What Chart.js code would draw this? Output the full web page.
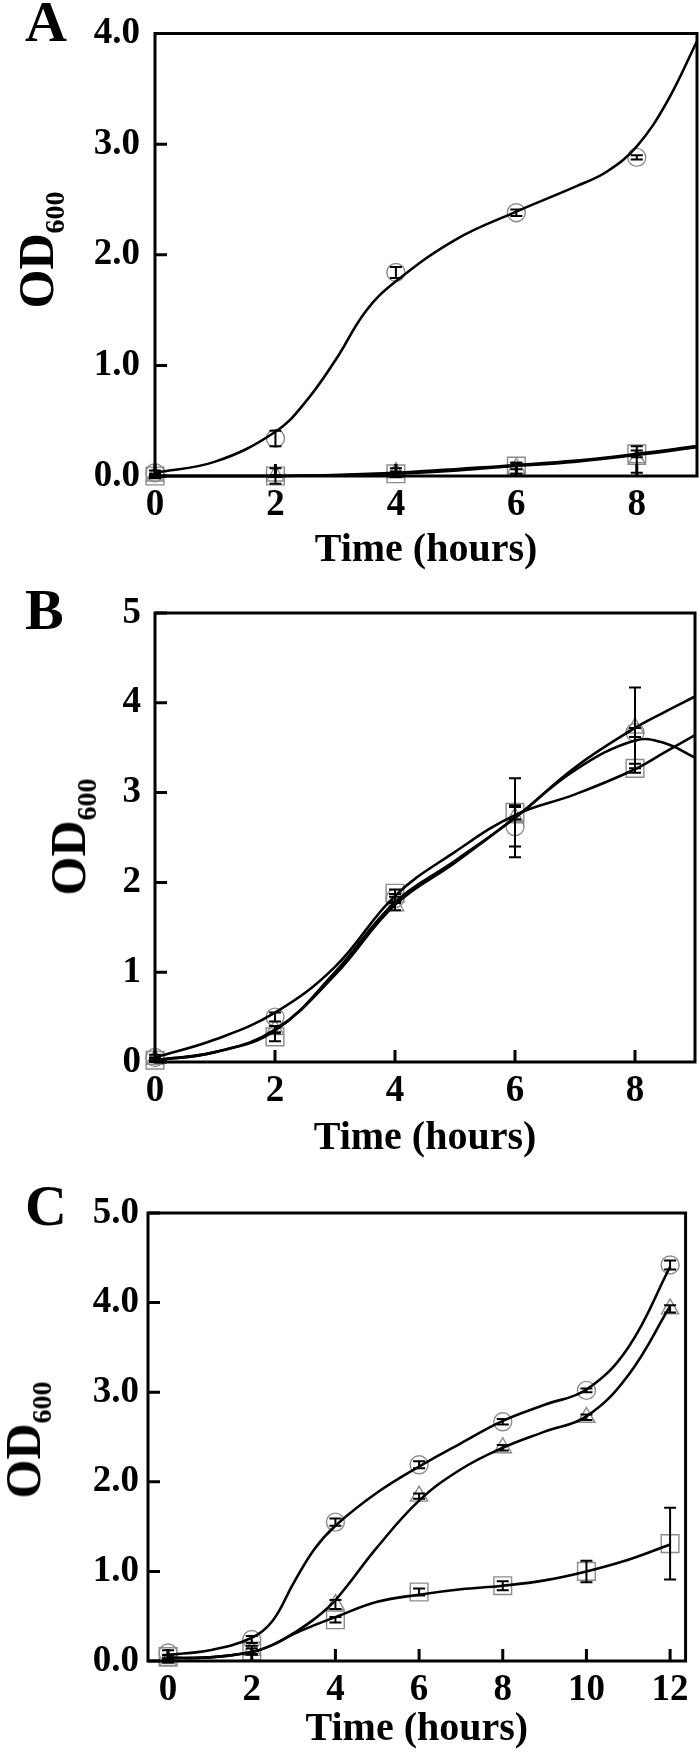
<!DOCTYPE html>
<html>
<head>
<meta charset="utf-8">
<script src="https://cdn.jsdelivr.net/npm/chart.js@4.4.1/dist/chart.umd.min.js"></script>
<style>
  html, body { margin: 0; padding: 0; background: #fff; }
  #page { position: relative; width: 700px; height: 1754px; overflow: hidden;
          font-family: "Liberation Serif", "Times New Roman", serif; font-weight: bold; color: #000; }
  canvas { position: absolute; left: 0; }
  .letter { position: absolute; left: 25px; font-size: 58px; line-height: 1; }
  .ylab { position: absolute; font-size: 50px; line-height: 1; white-space: nowrap;
          transform: translate(-50%, -50%) rotate(-90deg); }
  .ylab sub { font-size: 28px; vertical-align: baseline; position: relative; top: 0.4em; }
</style>
</head>
<body>
<div id="page">
  <canvas id="chartA" width="700" height="580" style="top:0px"></canvas>
  <canvas id="chartB" width="700" height="590" style="top:580px"></canvas>
  <canvas id="chartC" width="700" height="584" style="top:1170px"></canvas>

  <div class="letter" style="top:-7px">A</div>
  <div class="letter" style="top:581px">B</div>
  <div class="letter" style="top:1177px">C</div>

  <div class="ylab" style="left:36px; top:250px">OD<sub>600</sub></div>
  <div class="ylab" style="left:68px; top:837px">OD<sub>600</sub></div>
  <div class="ylab" style="left:23px; top:1440px">OD<sub>600</sub></div>
</div>

<script>
// Panel A
const hoursA = [0, 2, 4, 6, 8];
const circleA = [0.03, 0.34, 1.84, 2.38, 2.88];
const circleErrA = [0.02, 0.07, 0.05, 0.03, 0.02];
const squareA = [0.0, 0.0, 0.02, 0.09, 0.2];
const squareErrA = [0.01, 0.01, 0.02, 0.03, 0.03];
const triangleA = [0.0, 0.0, 0.03, 0.07, 0.15];
const triangleErrA = [0.02, 0.07, 0.04, 0.05, 0.12];
const fitHoursA = [0, 1, 2, 2.5, 3, 3.5, 4, 5, 6, 7, 7.5, 8, 8.5, 9];
const fitCircleA = [0.03, 0.13, 0.4, 0.67, 1.05, 1.49, 1.76, 2.14, 2.39, 2.62, 2.75, 2.98, 3.38, 3.93];
const fitLowHoursA = [0, 2, 4, 6, 7, 8, 9];
const fitSquareA = [0.0, 0.0, 0.03, 0.1, 0.14, 0.2, 0.27];
const fitTriangleA = [0.0, 0.0, 0.02, 0.09, 0.13, 0.19, 0.26];
const xTicksA = [0, 2, 4, 6, 8];
const yTicksA = [0, 1, 2, 3, 4];

// Panel B
const hoursB = [0, 2, 4, 6, 8];
const circleB = [0.05, 0.5, 1.82, 2.62, 3.67];
const circleErrB = [0.03, 0.05, 0.05, 0.22, 0.05];
const squareB = [0.02, 0.28, 1.88, 2.78, 3.27];
const squareErrB = [0.02, 0.05, 0.04, 0.08, 0.05];
const triangleB = [0.03, 0.36, 1.74, 2.72, 3.72];
const triangleErrB = [0.02, 0.04, 0.05, 0.44, 0.45];
const fitHoursB = [0, 1, 2, 3, 4, 5, 6, 7, 8, 8.5, 9];
const fitCircleB = [0.05, 0.25, 0.55, 1.06, 1.85, 2.34, 2.75, 2.98, 3.26, 3.45, 3.64];
const fitSquareB = [0.02, 0.11, 0.36, 0.97, 1.75, 2.22, 2.72, 3.25, 3.58, 3.55, 3.39];
const fitTriangleB = [0.02, 0.11, 0.35, 1.0, 1.78, 2.24, 2.72, 3.28, 3.72, 3.9, 4.07];
const xTicksB = [0, 2, 4, 6, 8];
const yTicksB = [0, 1, 2, 3, 4, 5];

// Panel C
const hoursC = [0, 2, 4, 6, 8, 10, 12];
const circleC = [0.09, 0.24, 1.55, 2.19, 2.67, 3.02, 4.42];
const circleErrC = [0.03, 0.04, 0.04, 0.04, 0.03, 0.02, 0.05];
const triangleC = [0.0, 0.12, 0.63, 1.84, 2.38, 2.72, 3.93];
const triangleErrC = [0.02, 0.05, 0.05, 0.03, 0.03, 0.03, 0.04];
const squareC = [0.05, 0.11, 0.46, 0.77, 0.84, 1.0, 1.31];
const squareErrC = [0.02, 0.03, 0.03, 0.04, 0.05, 0.12, 0.4];
const fitHoursC = [0, 1, 2, 2.5, 3, 3.5, 4, 5, 6, 7, 8, 9, 10, 11, 12];
const fitCircleC = [0.07, 0.12, 0.26, 0.45, 0.87, 1.25, 1.51, 1.88, 2.17, 2.43, 2.68, 2.86, 3.03, 3.5, 4.4];
const fitTriangleC = [0.03, 0.04, 0.1, 0.18, 0.31, 0.47, 0.68, 1.27, 1.79, 2.14, 2.38, 2.56, 2.73, 3.19, 3.96];
const fitSquareC = [0.04, 0.04, 0.1, 0.18, 0.3, 0.4, 0.49, 0.66, 0.74, 0.8, 0.84, 0.9, 1.0, 1.13, 1.3];
const xTicksC = [0, 2, 4, 6, 8, 10, 12];
const yTicksC = [0, 1, 2, 3, 4, 5];

const serif = "'Liberation Serif', 'Times New Roman', serif";
const markerGray = "#8c8c8c";

function points(xs, ys) {
  return xs.map((x, i) => ({ x: x, y: ys[i] }));
}

function markerSet(xs, ys, style, radius) {
  return {
    data: points(xs, ys),
    showLine: false,
    pointStyle: style,
    pointRadius: radius,
    pointBorderColor: markerGray,
    pointBackgroundColor: "rgba(0,0,0,0)",
    pointBorderWidth: 1.4,
    clip: false,
    order: 3
  };
}

function curveSet(xs, ys) {
  return {
    data: points(xs, ys),
    showLine: true,
    borderColor: "#000",
    borderWidth: 2.6,
    tension: 0.4,
    pointRadius: 0,
    clip: false,
    order: 1
  };
}

// error bars, frame box and inward ticks
const frameAndBars = {
  id: "frameAndBars",
  afterDatasetsDraw(chart, args, opts) {
    const ctx = chart.ctx;
    const xs = chart.scales.x;
    const ys = chart.scales.y;
    const area = chart.chartArea;

    ctx.save();
    ctx.strokeStyle = "#000";
    ctx.lineWidth = 2;
    (opts.bars || []).forEach(set => {
      set.x.forEach((h, i) => {
        const px = xs.getPixelForValue(h);
        const lo = ys.getPixelForValue(set.y[i] - set.err[i]);
        const hi = ys.getPixelForValue(set.y[i] + set.err[i]);
        ctx.beginPath();
        ctx.moveTo(px, lo);
        ctx.lineTo(px, hi);
        ctx.moveTo(px - 6, lo);
        ctx.lineTo(px + 6, lo);
        ctx.moveTo(px - 6, hi);
        ctx.lineTo(px + 6, hi);
        ctx.stroke();
      });
    });

    ctx.lineWidth = 3;
    ctx.strokeRect(area.left, area.top, area.right - area.left, area.bottom - area.top);
    ctx.beginPath();
    xs.ticks.forEach(t => {
      const px = xs.getPixelForValue(t.value);
      ctx.moveTo(px, area.bottom);
      ctx.lineTo(px, area.bottom - 12);
    });
    ys.ticks.forEach(t => {
      const py = ys.getPixelForValue(t.value);
      ctx.moveTo(area.left, py);
      ctx.lineTo(area.left + 12, py);
    });
    ctx.stroke();
    ctx.restore();
  }
};

function buildPanel(canvasId, p) {
  return new Chart(document.getElementById(canvasId), {
    type: "scatter",
    data: { datasets: p.datasets },
    plugins: [frameAndBars],
    options: {
      responsive: false,
      animation: false,
      devicePixelRatio: 1,
      layout: { autoPadding: false, padding: { top: p.padTop, right: p.padRight, bottom: 0, left: 0 } },
      scales: {
        x: {
          type: "linear",
          min: p.xMin,
          max: p.xMax,
          afterBuildTicks: s => { s.ticks = p.xTicks.map(v => ({ value: v })); },
          afterFit: s => { s.height = p.xHeight; },
          grid: { display: false, drawTicks: false },
          border: { display: false },
          ticks: {
            color: "#000",
            padding: 11,
            maxRotation: 0,
            autoSkip: false,
            font: { family: serif, size: 37, weight: "bold", lineHeight: 1 }
          },
          title: {
            display: true,
            text: "Time (hours)",
            color: "#000",
            padding: { top: 0, bottom: p.titlePad },
            font: { family: serif, size: 40, weight: "bold", lineHeight: 1 }
          }
        },
        y: {
          type: "linear",
          min: 0,
          max: p.yMax,
          afterBuildTicks: s => { s.ticks = p.yTicks.map(v => ({ value: v })); },
          afterFit: s => { s.width = p.yWidth; },
          grid: { display: false, drawTicks: false },
          border: { display: false },
          ticks: {
            color: "#000",
            padding: p.yPad,
            callback: v => v.toFixed(p.decimals),
            font: { family: serif, size: 37, weight: "bold", lineHeight: 1 }
          }
        }
      },
      plugins: {
        legend: { display: false },
        tooltip: { enabled: false },
        frameAndBars: { bars: p.bars }
      }
    }
  });
}

buildPanel("chartA", {
  xMin: 0, xMax: 9, yMax: 4, decimals: 1,
  xTicks: xTicksA, yTicks: yTicksA,
  padTop: 24, padRight: 3, yWidth: 155, yPad: 15, xHeight: 104, titlePad: 9,
  datasets: [
    markerSet(hoursA, circleA, "circle", 9),
    markerSet(hoursA, squareA, "rect", 12.5),
    markerSet(hoursA, triangleA, "triangle", 10),
    curveSet(fitHoursA, fitCircleA),
    curveSet(fitLowHoursA, fitSquareA),
    curveSet(fitLowHoursA, fitTriangleA)
  ],
  bars: [
    { x: hoursA, y: circleA, err: circleErrA },
    { x: hoursA, y: squareA, err: squareErrA },
    { x: hoursA, y: triangleA, err: triangleErrA }
  ]
});

buildPanel("chartB", {
  xMin: 0, xMax: 9, yMax: 5, decimals: 0,
  xTicks: xTicksB, yTicks: yTicksB,
  padTop: 33, padRight: 5, yWidth: 155, yPad: 14, xHeight: 108, titlePad: 11,
  datasets: [
    markerSet(hoursB, circleB, "circle", 9),
    markerSet(hoursB, squareB, "rect", 12.5),
    markerSet(hoursB, triangleB, "triangle", 10),
    curveSet(fitHoursB, fitCircleB),
    curveSet(fitHoursB, fitSquareB),
    curveSet(fitHoursB, fitTriangleB)
  ],
  bars: [
    { x: hoursB, y: circleB, err: circleErrB },
    { x: hoursB, y: squareB, err: squareErrB },
    { x: hoursB, y: triangleB, err: triangleErrB }
  ]
});

buildPanel("chartC", {
  xMin: -0.48, xMax: 12.37, yMax: 5, decimals: 1,
  xTicks: xTicksC, yTicks: yTicksC,
  padTop: 43, padRight: 14, yWidth: 148, yPad: 9, xHeight: 93, titlePad: 4,
  datasets: [
    markerSet(hoursC, circleC, "circle", 9),
    markerSet(hoursC, squareC, "rect", 12.5),
    markerSet(hoursC, triangleC, "triangle", 10),
    curveSet(fitHoursC, fitCircleC),
    curveSet(fitHoursC, fitTriangleC),
    curveSet(fitHoursC, fitSquareC)
  ],
  bars: [
    { x: hoursC, y: circleC, err: circleErrC },
    { x: hoursC, y: squareC, err: squareErrC },
    { x: hoursC, y: triangleC, err: triangleErrC }
  ]
});
</script>
</body>
</html>
